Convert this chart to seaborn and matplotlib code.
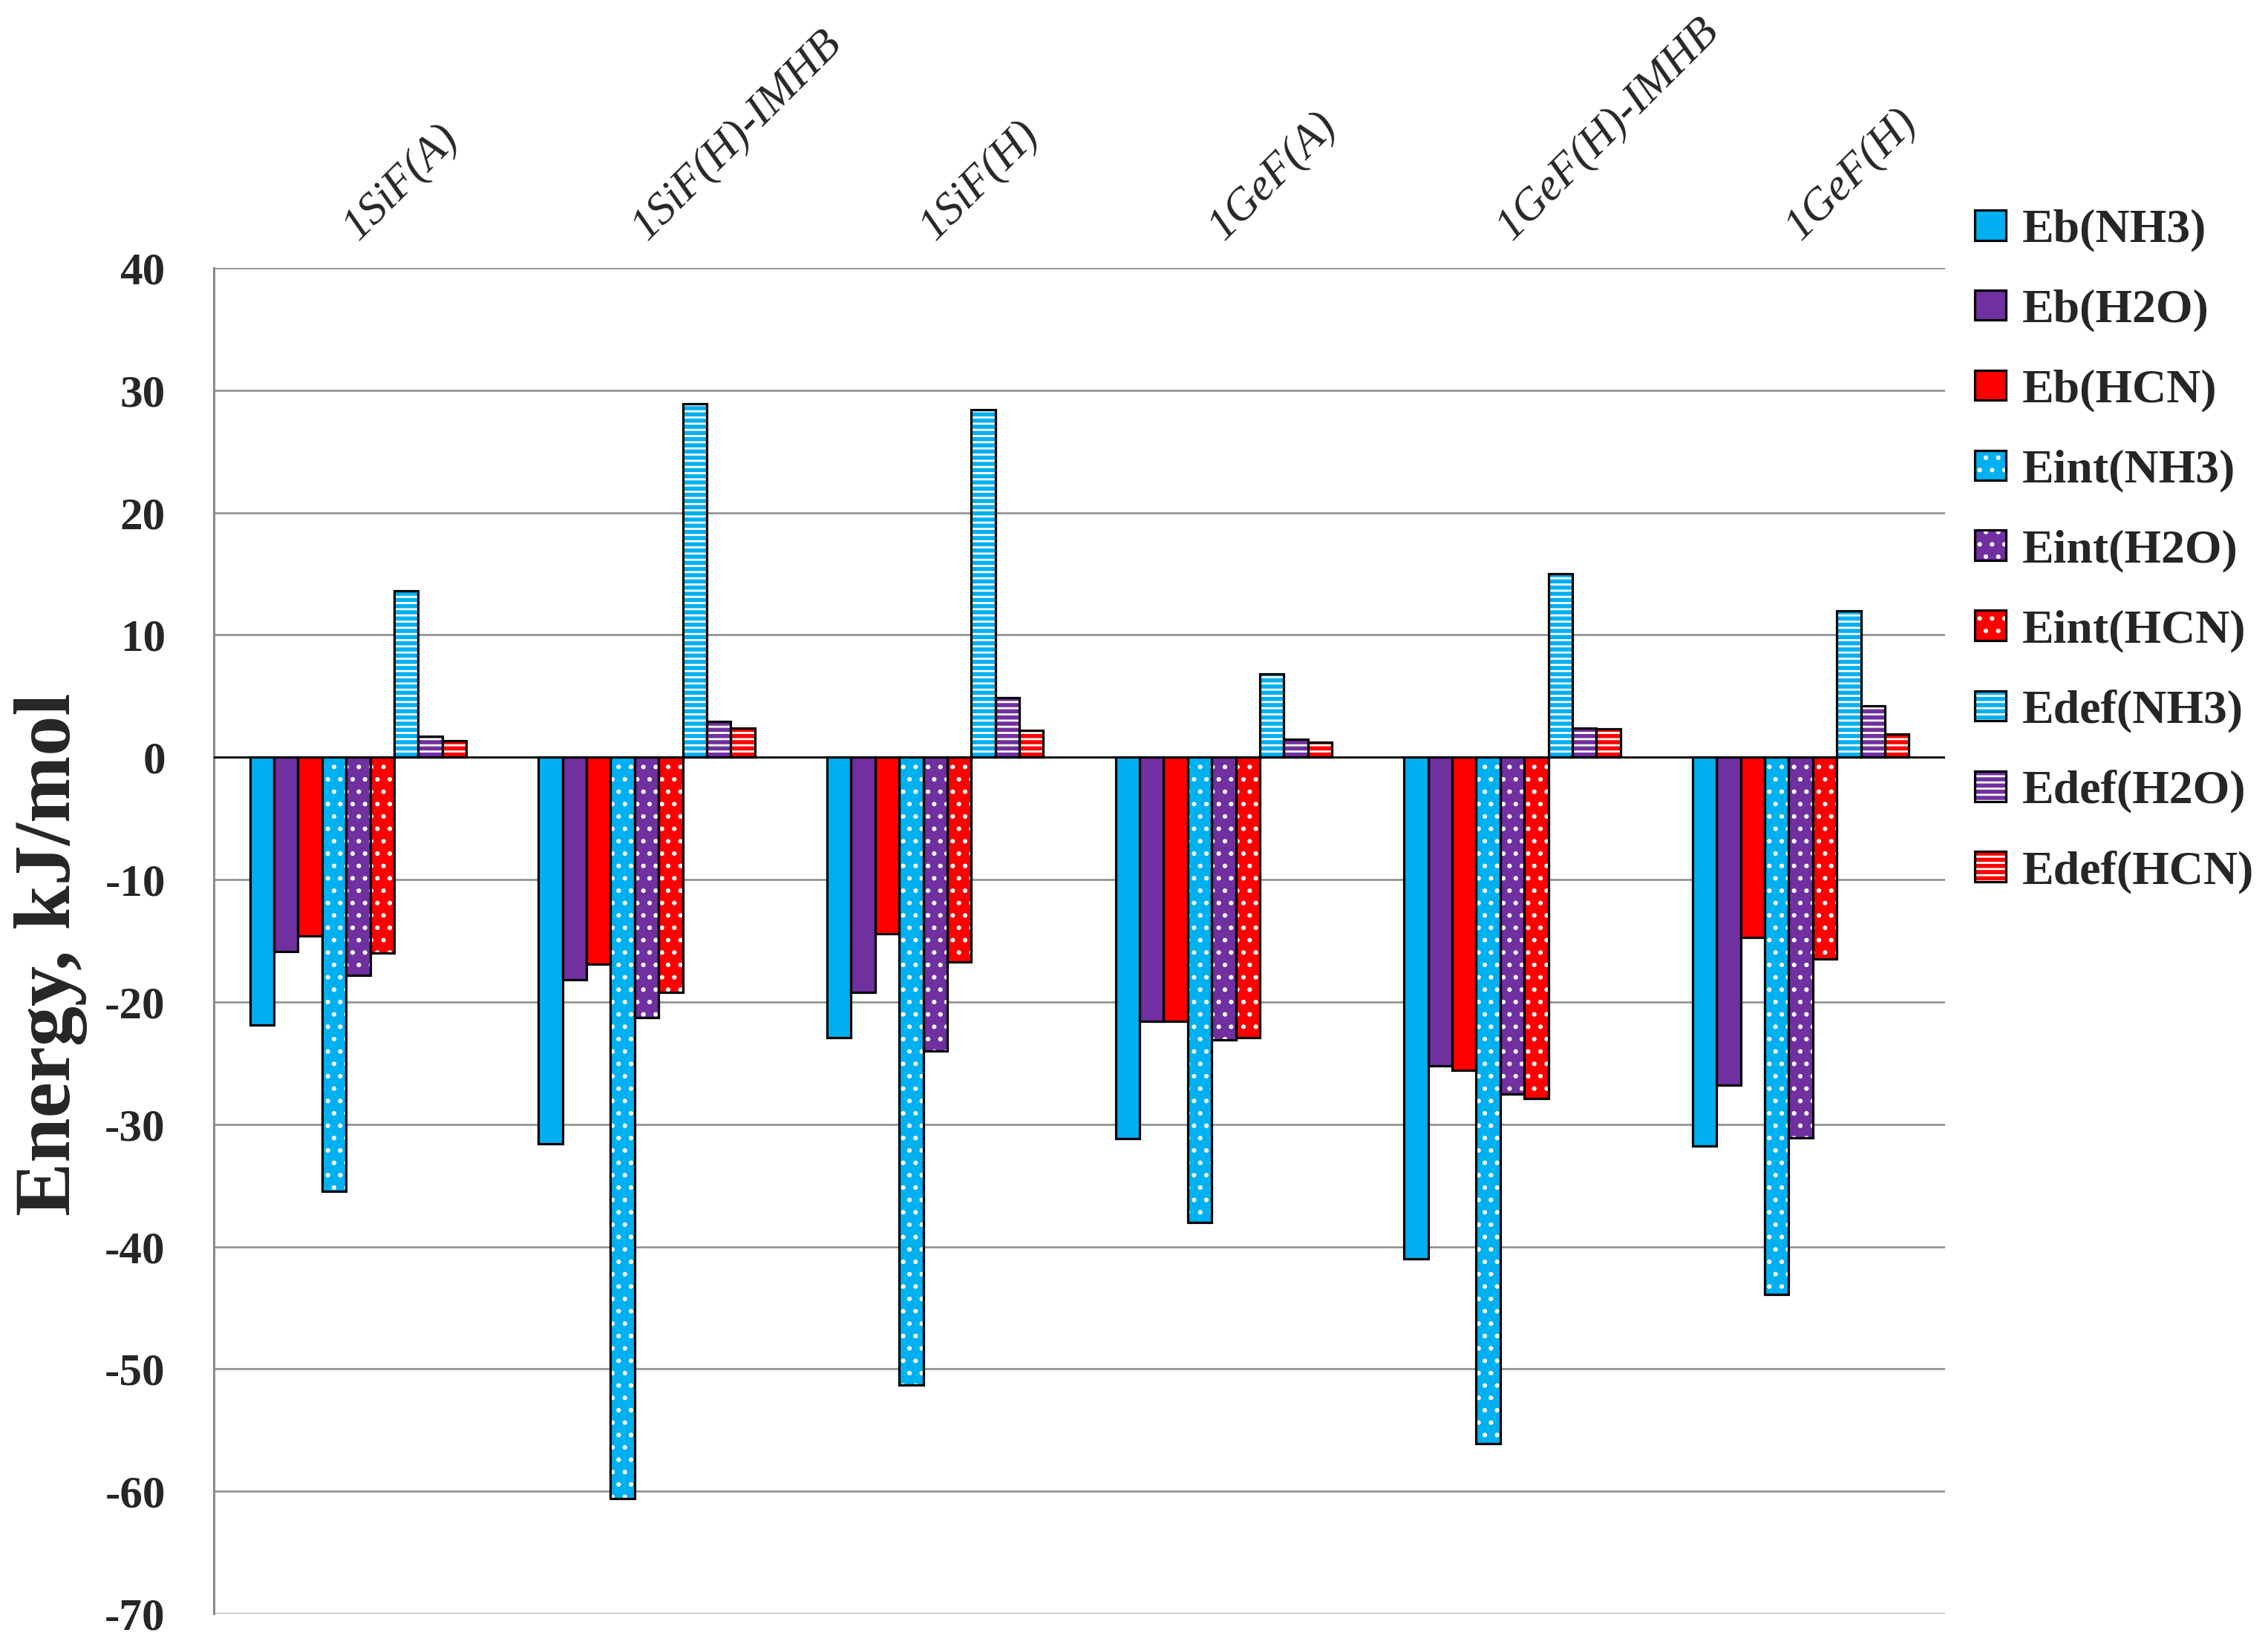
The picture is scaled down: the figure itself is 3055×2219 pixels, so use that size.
import pandas as pd
import matplotlib
matplotlib.use("Agg")
import matplotlib.pyplot as plt
import seaborn as sns
from matplotlib.patches import Patch, Rectangle

# Data (kJ/mol)
structures = ["1SiF(A)", "1SiF(H)-IMHB", "1SiF(H)", "1GeF(A)", "1GeF(H)-IMHB", "1GeF(H)"]
terms = ["Eb(NH3)", "Eb(H2O)", "Eb(HCN)",
         "Eint(NH3)", "Eint(H2O)", "Eint(HCN)",
         "Edef(NH3)", "Edef(H2O)", "Edef(HCN)"]

eb_nh3 = [-21.9, -31.6, -22.9, -31.2, -41.0, -31.8]
eb_h2o = [-15.9, -18.2, -19.2, -21.6, -25.2, -26.8]
eb_hcn = [-14.6, -16.9, -14.4, -21.6, -25.6, -14.7]
eint_nh3 = [-35.5, -60.6, -51.3, -38.0, -56.1, -43.9]
eint_h2o = [-17.8, -21.3, -24.0, -23.1, -27.5, -31.1]
eint_hcn = [-16.0, -19.2, -16.7, -22.9, -27.9, -16.5]
edef_nh3 = [13.6, 28.9, 28.4, 6.8, 15.0, 12.0]
edef_h2o = [1.7, 2.9, 4.9, 1.5, 2.4, 4.2]
edef_hcn = [1.35, 2.4, 2.2, 1.25, 2.3, 1.9]

series = [eb_nh3, eb_h2o, eb_hcn, eint_nh3, eint_h2o, eint_hcn, edef_nh3, edef_h2o, edef_hcn]

colors = ["#00B0F0", "#7030A0", "#FF0000"] * 3
hatches = ["", "", "", ".", ".", ".", "--", "--", "--"]

rows = []
for term, vals in zip(terms, series):
    for s, v in zip(structures, vals):
        rows.append({"structure": s, "term": term, "energy": v})
df = pd.DataFrame(rows)

sns.set_theme(style="white")
plt.rcParams["font.family"] = ["Liberation Serif", "DejaVu Serif"]
plt.rcParams["hatch.linewidth"] = 2.0
plt.rcParams["axes.unicode_minus"] = False

fig = plt.figure(figsize=(30.55, 22.19), dpi=100)
ax = fig.add_axes([0.0943, 0.0203, 0.7633, 0.817])

sns.barplot(data=df, x="structure", y="energy", hue="term",
            order=structures, hue_order=terms, palette=colors,
            saturation=1, width=0.75, errorbar=None, legend=False, ax=ax)

# white hatch on the fill, then a black outline drawn on top
for cont, h in zip(ax.containers, hatches):
    for bar in cont:
        bar.set_edgecolor("white")
        bar.set_linewidth(0)
        bar.set_hatch(h)
        bar.set_zorder(3)
        ax.add_patch(Rectangle(bar.get_xy(), bar.get_width(), bar.get_height(),
                               fill=False, edgecolor="black", linewidth=2.3, zorder=4))

ax.set_ylim(-70, 40)
ax.set_xlim(-0.5, 5.5)
ax.set_yticks(range(-70, 41, 10))
ax.yaxis.grid(True, color="#8a8a8a", linewidth=1.8)
ax.set_axisbelow(True)
ax.axhline(0, color="black", linewidth=2, zorder=3.5)

for side in ["top", "right", "bottom"]:
    ax.spines[side].set_visible(False)
ax.spines["left"].set_color("#8a8a8a")
ax.spines["left"].set_linewidth(2.2)

ax.tick_params(axis="y", direction="out", length=9, width=1.8, color="#8a8a8a",
               pad=38, labelsize=44)
for lab in ax.get_yticklabels():
    lab.set_fontweight("bold")

ax.xaxis.tick_top()
ax.set_xticks(range(len(structures)))
ax.set_xticklabels(structures, rotation=45, ha="left", va="baseline",
                   rotation_mode="anchor", fontstyle="italic", fontsize=44)
ax.tick_params(axis="x", length=0, pad=26)
ax.set_xlabel("")

ax.set_ylabel("Energy, kJ/mol", fontsize=78, fontweight="bold")
ax.yaxis.set_label_coords(-0.073, 0.49)

handles = []
for c, h in zip(colors, hatches):
    handles.append((Patch(facecolor=c, edgecolor="white", linewidth=0, hatch=h),
                    Patch(fill=False, edgecolor="black", linewidth=2.3)))
fig.legend(handles, terms, loc="upper left", bbox_to_anchor=(0.8707, 0.873),
           frameon=False, prop={"family": "Liberation Serif", "weight": "bold", "size": 46},
           handlelength=0.65, handleheight=0.6, handletextpad=0.35,
           labelspacing=0.78, borderpad=0, borderaxespad=0)

fig.savefig("out.png", dpi=100)
